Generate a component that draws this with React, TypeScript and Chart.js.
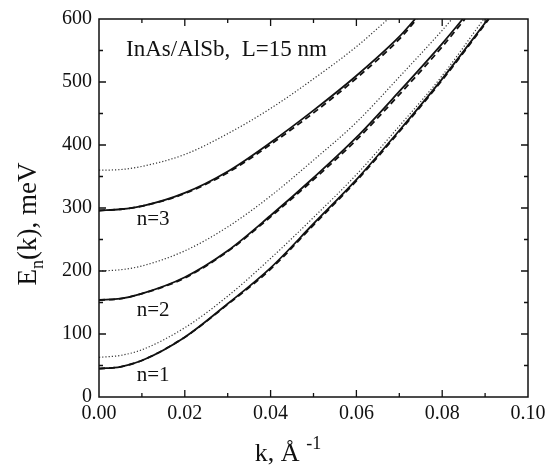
import React, { useEffect, useRef } from 'react';
import { Chart, registerables } from 'chart.js';

Chart.register(...registerables);

// wave-vector grid (1/Å)
const kGrid = [0, 0.005, 0.01, 0.02, 0.03, 0.04, 0.05, 0.06, 0.07, 0.08];
const E_TOP = 600;

// n = 1
const n1Solid = [45, 48, 58, 95, 148, 205, 275, 345, 423, 505];
const n1SolidEnd = 0.0907;
const n1Dashed = [45, 48, 58, 95, 147, 203, 273, 343, 421, 503];
const n1DashedEnd = 0.0909;
const n1Dotted = [63, 66, 75, 110, 160, 220, 285, 353, 430, 510];
const n1DottedEnd = 0.0897;

// n = 2
const n2Solid = [154, 156, 164, 190, 232, 288, 348, 412, 485, 561];
const n2SolidEnd = 0.0848;
const n2Dashed = [154, 156, 164, 189, 231, 286, 345, 408, 480, 556];
const n2DashedEnd = 0.0853;
const n2Dotted = [200, 202, 208, 232, 270, 319, 376, 436, 508, 582];
const n2DottedEnd = 0.0823;

// n = 3
const n3Solid = [296, 298, 303, 324, 358, 404, 455, 510, 572];
const n3SolidEnd = 0.0737;
const n3Dashed = [296, 298, 303, 323, 356, 401, 451, 506, 568];
const n3DashedEnd = 0.0741;
const n3Dotted = [360, 361, 366, 385, 418, 458, 505, 556];
const n3DottedEnd = 0.0674;

// axis ticks
const xTicks = [0, 0.02, 0.04, 0.06, 0.08, 0.1];
const xMinorTicks = [0.01, 0.03, 0.05, 0.07, 0.09];
const yTicks = [0, 100, 200, 300, 400, 500, 600];
const yMinorTicks = [50, 150, 250, 350, 450, 550];

// in-plot labels (data coordinates)
const levelLabels = ['n=1', 'n=2', 'n=3'];
const levelLabelK = [0.0088, 0.0088, 0.0088];
const levelLabelE = [25, 129, 273];
const titleText = 'InAs/AlSb,  L=15 nm';
const titleK = 0.0063;
const titleE = 541;

const FONT = '"Liberation Serif", "Times New Roman", serif';

function curve(vals: number[], kEnd: number) {
  const pts = vals.map((e, i) => ({ x: kGrid[i], y: e }));
  pts.push({ x: kEnd, y: E_TOP });
  return pts;
}

const decorPlugin = {
  id: 'decor',
  afterDraw(chart: any) {
    const { ctx, chartArea: a, scales } = chart;
    const xs = scales.x;
    const ys = scales.y;
    ctx.save();
    ctx.strokeStyle = '#111';
    ctx.lineWidth = 1.5;
    ctx.strokeRect(a.left, a.top, a.right - a.left, a.bottom - a.top);
    ctx.lineWidth = 1.3;
    const tick = (vals: number[], len: number) => {
      vals.forEach((v) => {
        const px = xs.getPixelForValue(v);
        ctx.beginPath();
        ctx.moveTo(px, a.bottom);
        ctx.lineTo(px, a.bottom - len);
        ctx.moveTo(px, a.top);
        ctx.lineTo(px, a.top + len);
        ctx.stroke();
      });
    };
    const tickY = (vals: number[], len: number) => {
      vals.forEach((v) => {
        const py = ys.getPixelForValue(v);
        ctx.beginPath();
        ctx.moveTo(a.left, py);
        ctx.lineTo(a.left + len, py);
        ctx.moveTo(a.right, py);
        ctx.lineTo(a.right - len, py);
        ctx.stroke();
      });
    };
    tick(xTicks.slice(1, -1), 7);
    tick(xMinorTicks, 4);
    tickY(yTicks.slice(1, -1), 7);
    tickY(yMinorTicks, 4);

    // annotations
    ctx.fillStyle = '#111';
    ctx.textBaseline = 'alphabetic';
    ctx.textAlign = 'left';
    ctx.font = `21px ${FONT}`;
    levelLabels.forEach((t, i) => {
      ctx.fillText(t, xs.getPixelForValue(levelLabelK[i]), ys.getPixelForValue(levelLabelE[i]));
    });
    ctx.font = `23px ${FONT}`;
    ctx.fillText(titleText, xs.getPixelForValue(titleK), ys.getPixelForValue(titleE));

    // x-axis title: k, Å^-1
    const big = `26px ${FONT}`;
    const small = `18px ${FONT}`;
    ctx.font = big;
    const part1 = 'k, Å';
    const w1 = ctx.measureText(part1).width;
    ctx.font = small;
    const part2 = ' -1';
    const w2 = ctx.measureText(part2).width;
    const cx = a.left + 188;
    const x0 = cx - (w1 + w2) / 2;
    const base = chart.height - 5;
    ctx.font = big;
    ctx.fillText(part1, x0, base);
    ctx.font = small;
    ctx.fillText(part2, x0 + w1 + 2, base - 12);

    // y-axis title: E_n(k), meV
    ctx.save();
    ctx.translate(36, a.top + 205);
    ctx.rotate(-Math.PI / 2);
    const yBig = `27px ${FONT}`;
    const ySmall = `18px ${FONT}`;
    ctx.font = yBig;
    const wE = ctx.measureText('E').width;
    const wRest = ctx.measureText('(k), meV').width;
    ctx.font = ySmall;
    const wn = ctx.measureText('n').width;
    let tx = -(wE + wn + wRest) / 2;
    ctx.font = yBig;
    ctx.fillText('E', tx, 0);
    tx += wE;
    ctx.font = ySmall;
    ctx.fillText('n', tx, 7);
    tx += wn;
    ctx.font = yBig;
    ctx.fillText('(k), meV', tx, 0);
    ctx.restore();

    ctx.restore();
  },
};

export default function App() {
  const ref = useRef<HTMLCanvasElement | null>(null);
  useEffect(() => {
    if (!ref.current) return;
    const solid = { borderColor: '#111', borderWidth: 1.8, borderDash: [] as number[] };
    const dashed = { borderColor: '#111', borderWidth: 1.8, borderDash: [6, 4] };
    const dotted = { borderColor: '#333', borderWidth: 1.2, borderDash: [1.2, 2] };
    const mk = (data: any, style: any) => ({
      data,
      ...style,
      pointRadius: 0,
      fill: false,
      cubicInterpolationMode: 'monotone' as const,
    });
    const chart = new Chart(ref.current, {
      type: 'line',
      data: {
        datasets: [
          mk(curve(n1Solid, n1SolidEnd), solid),
          mk(curve(n2Solid, n2SolidEnd), solid),
          mk(curve(n3Solid, n3SolidEnd), solid),
          mk(curve(n1Dashed, n1DashedEnd), dashed),
          mk(curve(n2Dashed, n2DashedEnd), dashed),
          mk(curve(n3Dashed, n3DashedEnd), dashed),
          mk(curve(n1Dotted, n1DottedEnd), dotted),
          mk(curve(n2Dotted, n2DottedEnd), dotted),
          mk(curve(n3Dotted, n3DottedEnd), dotted),
        ],
      },
      options: {
        animation: false,
        responsive: true,
        maintainAspectRatio: false,
        layout: { padding: { top: 14, right: 31, left: 0, bottom: 0 } },
        plugins: { legend: { display: false }, tooltip: { enabled: false } },
        scales: {
          x: {
            type: 'linear',
            min: 0,
            max: 0.1,
            afterBuildTicks: (s: any) => {
              s.ticks = xTicks.map((v) => ({ value: v }));
            },
            afterFit: (s: any) => {
              s.height = 69;
            },
            ticks: {
              callback: (v: any) => Number(v).toFixed(2),
              font: { family: FONT, size: 20 },
              color: '#111',
              padding: 5,
              maxRotation: 0,
              autoSkip: false,
            },
            grid: { display: false, drawTicks: false },
            border: { display: false },
          },
          y: {
            type: 'linear',
            min: 0,
            max: 600,
            afterBuildTicks: (s: any) => {
              s.ticks = yTicks.map((v) => ({ value: v }));
            },
            afterFit: (s: any) => {
              s.width = 99;
            },
            ticks: {
              callback: (v: any) => String(v),
              font: { family: FONT, size: 20 },
              color: '#111',
              padding: 7,
              autoSkip: false,
            },
            grid: { display: false, drawTicks: false },
            border: { display: false },
          },
        },
      },
      plugins: [decorPlugin],
    });
    return () => chart.destroy();
  }, []);
  return (
    <div style={{ position: 'fixed', left: 0, top: 0, width: 559, height: 466, background: '#fff' }}>
      <canvas ref={ref} />
    </div>
  );
}
